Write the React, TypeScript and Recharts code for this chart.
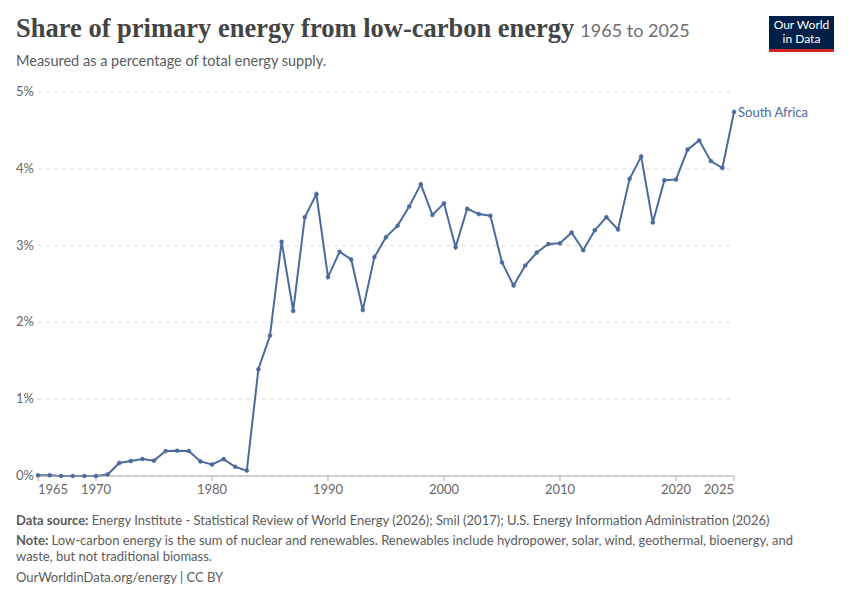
import { CartesianGrid, Line, LineChart, XAxis, YAxis } from 'recharts'

const years = [
  1965, 1966, 1967, 1968, 1969, 1970, 1971, 1972, 1973, 1974, 1975, 1976, 1977, 1978, 1979,
  1980, 1981, 1982, 1983, 1984, 1985, 1986, 1987, 1988, 1989, 1990, 1991, 1992, 1993, 1994,
  1995, 1996, 1997, 1998, 1999, 2000, 2001, 2002, 2003, 2004, 2005, 2006, 2007, 2008, 2009,
  2010, 2011, 2012, 2013, 2014, 2015, 2016, 2017, 2018, 2019, 2020, 2021, 2022, 2023, 2024,
  2025
]

// share of primary energy from low-carbon sources, South Africa (%)
const southAfrica = [
  0.01, 0.01, 0.0, 0.0, 0.0, 0.0, 0.02, 0.17, 0.195, 0.22, 0.2, 0.325, 0.33, 0.325, 0.19,
  0.15, 0.22, 0.12, 0.07, 1.39, 1.83, 3.05, 2.15, 3.37, 3.67, 2.59, 2.92, 2.82, 2.16, 2.85,
  3.11, 3.26, 3.51, 3.8, 3.4, 3.55, 2.98, 3.48, 3.41, 3.39, 2.78, 2.48, 2.74, 2.91, 3.02,
  3.03, 3.17, 2.94, 3.2, 3.37, 3.21, 3.87, 4.16, 3.3, 3.85, 3.86, 4.25, 4.37, 4.1, 4.01,
  4.74
]

const xTicks = [1965, 1970, 1980, 1990, 2000, 2010, 2020, 2025]
const yTicks = [0, 1, 2, 3, 4, 5]
const seriesName = 'South Africa'

const data = years.map((year, i) => ({ year, share: southAfrica[i] }))

const LINE = '#4c6a9c'
const GREY = '#5b5b5b'
const FONT = 'Lato, "Noto Sans", sans-serif'

function XTick(props: any) {
  const { x, y, payload } = props
  const v = payload.value
  const anchor = v === xTicks[0] ? 'start' : v === xTicks[xTicks.length - 1] ? 'end' : 'middle'
  return (
    <text x={x} y={y} dy={11} textAnchor={anchor} fill="#666" fontSize={13} fontFamily={FONT}>
      {v}
    </text>
  )
}

function YTick(props: any) {
  const { x, y, payload } = props
  return (
    <text x={x} y={y} dy={4} textAnchor="end" fill="#666" fontSize={13} fontFamily={FONT}>
      {payload.value}%
    </text>
  )
}

function EndLabel(props: any) {
  const { x, y, index } = props
  if (index !== data.length - 1) return null
  return (
    <text x={x + 4} y={y} dy={5} fill={LINE} fontSize={13} fontFamily={FONT}>
      {seriesName}
    </text>
  )
}

export default function App() {
  return (
    <div
      style={{
        position: 'absolute',
        left: 0,
        top: 0,
        width: 850,
        height: 600,
        background: '#fff',
        fontFamily: FONT,
        overflow: 'hidden'
      }}
    >
      <div style={{ position: 'absolute', left: 16, top: 13, whiteSpace: 'nowrap' }}>
        <span
          style={{
            fontFamily: '"Liberation Serif", serif',
            fontWeight: 700,
            fontSize: 26.5,
            color: '#444'
          }}
        >
          Share of primary energy from low-carbon energy
        </span>
        <span style={{ fontSize: 18, color: '#6e6e6e', marginLeft: 6 }}>1965 to 2025</span>
      </div>
      <div style={{ position: 'absolute', left: 16, top: 52, fontSize: 14.5, color: GREY }}>
        Measured as a percentage of total energy supply.
      </div>
      <div
        style={{
          position: 'absolute',
          left: 769,
          top: 16,
          width: 65,
          height: 36,
          background: '#002147',
          borderBottom: '3px solid #ce261e',
          color: '#fff',
          fontSize: 12,
          lineHeight: '14px',
          textAlign: 'center',
          paddingTop: 2,
          boxSizing: 'border-box'
        }}
      >
        Our World
        <br />
        in Data
      </div>

      <div style={{ position: 'absolute', left: 0, top: 0 }}>
        <LineChart
          width={850}
          height={600}
          data={data}
          margin={{ top: 92, right: 116, bottom: 94, left: 8 }}
        >
          <CartesianGrid vertical={false} stroke="#dddddd" strokeDasharray="4 4" />
          <XAxis
            dataKey="year"
            type="number"
            domain={[1965, 2025]}
            ticks={xTicks}
            tick={<XTick />}
            tickSize={5}
            height={30}
            stroke="#aaaaaa"
            interval={0}
          />
          <YAxis
            type="number"
            domain={[0, 5]}
            ticks={yTicks}
            tick={<YTick />}
            axisLine={false}
            tickLine={false}
            tickSize={0}
            tickMargin={4}
            width={30}
          />
          <Line
            dataKey="share"
            stroke={LINE}
            strokeWidth={2}
            dot={{ r: 2, fill: LINE, stroke: LINE, strokeWidth: 0.5 }}
            label={<EndLabel />}
            isAnimationActive={false}
          />
        </LineChart>
      </div>

      <div
        style={{
          position: 'absolute',
          left: 16,
          top: 512,
          width: 800,
          fontSize: 13,
          lineHeight: '16px',
          color: GREY
        }}
      >
        <div>
          <b>Data source:</b> Energy Institute - Statistical Review of World Energy (2026); Smil
          (2017); U.S. Energy Information Administration (2026)
        </div>
        <div style={{ marginTop: 4 }}>
          <b>Note:</b> Low-carbon energy is the sum of nuclear and renewables. Renewables include
          hydropower, solar, wind, geothermal, bioenergy, and
          <br />
          waste, but not traditional biomass.
        </div>
        <div style={{ marginTop: 5 }}>OurWorldinData.org/energy | CC BY</div>
      </div>
    </div>
  )
}
